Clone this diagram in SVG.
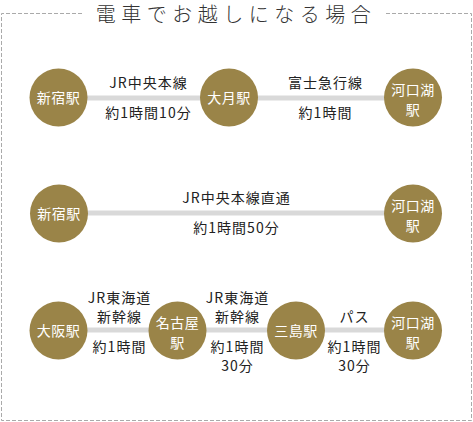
<svg xmlns="http://www.w3.org/2000/svg" width="473" height="422" viewBox="0 0 473 422">
<style>
.st{fill:#9a8448}
.ln{stroke:#d9d9d9;stroke-width:5;fill:none}
.nt{font-family:"Noto Sans CJK JP","Noto Sans",sans-serif;font-size:14px;fill:#ffffff;text-anchor:middle;letter-spacing:0.5px}
.lb{font-family:"Noto Sans CJK JP","Noto Sans",sans-serif;font-size:14px;fill:#222222;text-anchor:middle;letter-spacing:1px}
.tt{font-family:"Noto Sans CJK JP",serif;font-weight:300;font-size:20px;fill:#333333;text-anchor:middle;letter-spacing:5.5px}
</style>
<rect width="473" height="422" fill="#ffffff"/>
<path d="M82 13.5H1.5V420.5H471.5V13.5H384" fill="none" stroke="#aaaaaa" stroke-width="1" stroke-dasharray="4,2"/>
<text class="tt" x="236" y="22">電車でお越しになる場合</text>
<g id="connectors">
<line class="ln" x1="58" y1="98" x2="413" y2="98"/>
<line class="ln" x1="59" y1="213" x2="413" y2="213"/>
<line class="ln" x1="58" y1="330" x2="413" y2="330"/>
</g>
<g id="labels">
<text class="lb" x="148.5" y="88">JR中央本線</text>
<text class="lb" x="148.5" y="118">約1時間10分</text>
<text class="lb" x="325.5" y="88">富士急行線</text>
<text class="lb" x="325.5" y="118">約1時間</text>
<text class="lb" x="236.5" y="203">JR中央本線直通</text>
<text class="lb" x="236.5" y="233">約1時間50分</text>
<text class="lb" x="119.5" y="303">JR東海道</text>
<text class="lb" x="119.5" y="322">新幹線</text>
<text class="lb" x="119.5" y="352">約1時間</text>
<text class="lb" x="237.5" y="303">JR東海道</text>
<text class="lb" x="237.5" y="322">新幹線</text>
<text class="lb" x="237.5" y="352">約1時間</text>
<text class="lb" x="237.5" y="371">30分</text>
<text class="lb" x="354.5" y="322">パス</text>
<text class="lb" x="354.5" y="352">約1時間</text>
<text class="lb" x="354.5" y="371">30分</text>
</g>
<g id="n1"><circle class="st" cx="58.5" cy="97.5" r="29"/><text class="nt" x="58.5" y="102.5">新宿駅</text></g>
<g id="n2"><circle class="st" cx="229" cy="97.5" r="29"/><text class="nt" x="229" y="102.5">大月駅</text></g>
<g id="n3"><circle class="st" cx="413" cy="97.5" r="29"/><text class="nt" x="413" y="95">河口湖</text><text class="nt" x="413" y="115">駅</text></g>
<g id="n4"><circle class="st" cx="59" cy="213.5" r="29"/><text class="nt" x="59" y="218.5">新宿駅</text></g>
<g id="n5"><circle class="st" cx="413" cy="213.5" r="29"/><text class="nt" x="413" y="211">河口湖</text><text class="nt" x="413" y="231">駅</text></g>
<g id="n6"><circle class="st" cx="58.5" cy="330.5" r="29"/><text class="nt" x="58.5" y="335.5">大阪駅</text></g>
<g id="n7"><circle class="st" cx="177.5" cy="330.5" r="29"/><text class="nt" x="177.5" y="328">名古屋</text><text class="nt" x="177.5" y="348">駅</text></g>
<g id="n8"><circle class="st" cx="296" cy="330.5" r="29"/><text class="nt" x="296" y="335.5">三島駅</text></g>
<g id="n9"><circle class="st" cx="413" cy="330.5" r="29"/><text class="nt" x="413" y="328">河口湖</text><text class="nt" x="413" y="348">駅</text></g>
</svg>
